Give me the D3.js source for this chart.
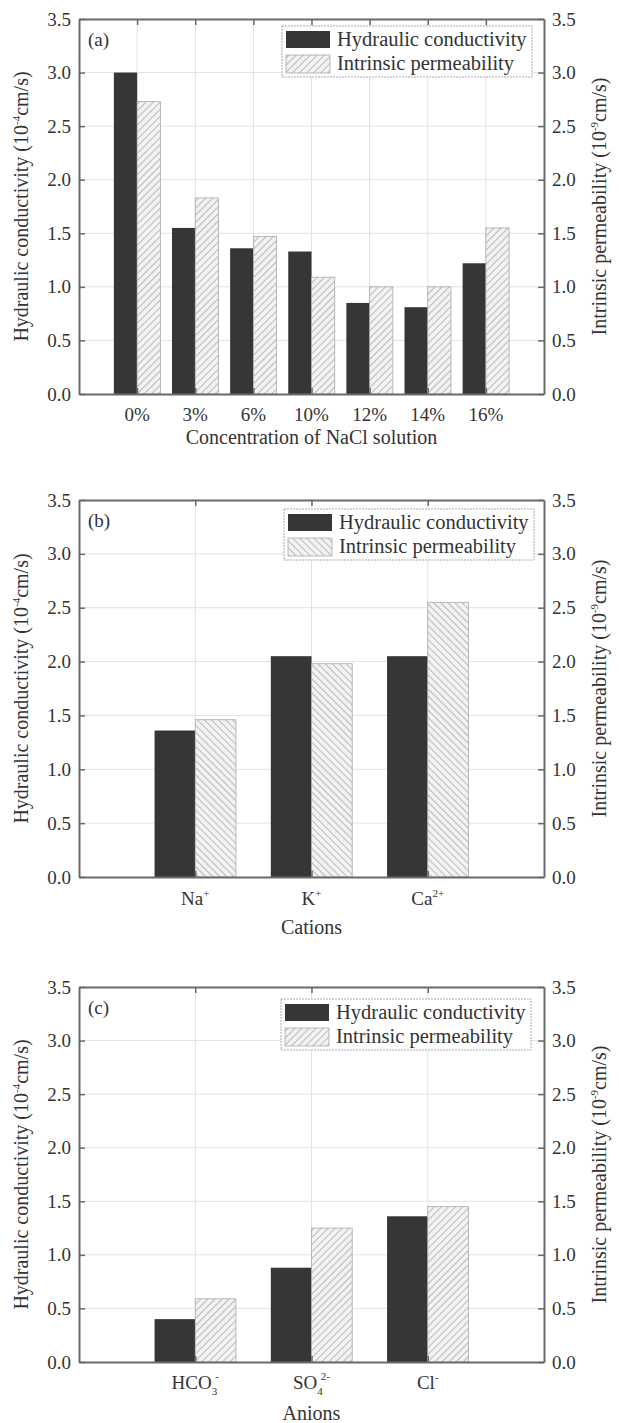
<!DOCTYPE html>
<html><head><meta charset="utf-8">
<script src="https://cdn.jsdelivr.net/npm/d3@7/dist/d3.min.js"></script>
<style>
html,body{margin:0;padding:0;background:#fff;}
text{font-family:"Liberation Serif","Times New Roman",serif;fill:#333;}
</style></head>
<body><svg id="c" width="619" height="1423"></svg>
<script>
// ---- data ----
const catsA = ["0%","3%","6%","10%","12%","14%","16%"];
const hydA  = [3.00,1.55,1.36,1.33,0.85,0.81,1.22];
const intA  = [2.73,1.83,1.47,1.09,1.00,1.00,1.55];

const catsB = [["Na","+"],["K","+"],["Ca","2+"]];
const hydB  = [1.36,2.05,2.05];
const intB  = [1.46,1.98,2.55];

const catsC = [["HCO","3","-"],["SO","4","2-"],["Cl","","-"]];
const hydC  = [0.40,0.88,1.36];
const intC  = [0.59,1.25,1.45];

const yTicks = [0,0.5,1.0,1.5,2.0,2.5,3.0,3.5];
const legendLabels = ["Hydraulic conductivity","Intrinsic permeability"];

const svg = d3.select("#c");
const defs = svg.append("defs");
function hatch(id, dir){
  const p = defs.append("pattern").attr("id",id).attr("patternUnits","userSpaceOnUse")
    .attr("width",5).attr("height",5)
    .attr("patternTransform", dir>0 ? "rotate(45)" : "rotate(-45)");
  p.append("rect").attr("width",5).attr("height",5).attr("fill","#f2f2f2");
  p.append("line").attr("x1",0).attr("y1",0).attr("x2",0).attr("y2",5)
    .attr("stroke","#9a9a9a").attr("stroke-width",1.3);
}
hatch("hR",1); hatch("hL",-1);

const L = 79, R = 544;
const panels = [
  {top:19, bot:394, cats:catsA, hyd:hydA, intr:intA, bw:0.40, pat:"hR", label:"(a)",
   xTitle:"Concentration of NaCl solution", tickY:421, titleY:444, kind:"a", leg:[282,26]},
  {top:500, bot:877, cats:catsB, hyd:hydB, intr:intB, bw:0.35, pat:"hL", label:"(b)",
   xTitle:"Cations", tickY:905, titleY:934, kind:"b", leg:[284,509]},
  {top:987, bot:1362, cats:catsC, hyd:hydC, intr:intC, bw:0.35, pat:"hR", label:"(c)",
   xTitle:"Anions", tickY:1389, titleY:1420, kind:"c", leg:[281,999]}
];

panels.forEach(P=>{
  const n = P.cats.length;
  const x = d3.scaleLinear().domain([0,n+1]).range([L,R]);
  const y = d3.scaleLinear().domain([0,3.5]).range([P.bot,P.top]);
  const g = svg.append("g");
  const idx = d3.range(1,n+1);

  // grid
  g.append("g").selectAll("line").data(yTicks.filter(v=>v>0&&v<3.5)).join("line")
    .attr("x1",L).attr("x2",R).attr("y1",d=>y(d)).attr("y2",d=>y(d))
    .attr("stroke","#e2e2e2").attr("stroke-width",1);
  g.append("g").selectAll("line").data(idx).join("line")
    .attr("x1",d=>x(d)).attr("x2",d=>x(d)).attr("y1",P.top).attr("y2",P.bot)
    .attr("stroke","#e2e2e2").attr("stroke-width",1);

  // bars
  const bw = x(P.bw)-x(0);
  g.append("g").selectAll("rect").data(P.hyd).join("rect")
    .attr("x",(d,i)=>x(i+1)-bw).attr("width",bw)
    .attr("y",d=>y(d)).attr("height",d=>y(0)-y(d))
    .attr("fill","#363636");
  g.append("g").selectAll("rect").data(P.intr).join("rect")
    .attr("x",(d,i)=>x(i+1)).attr("width",bw)
    .attr("y",d=>y(d)).attr("height",d=>y(0)-y(d))
    .attr("fill","url(#"+P.pat+")").attr("stroke","#aaa").attr("stroke-width",0.8);

  // axes
  const styleAx = sel=>{
    sel.select(".domain").attr("stroke","#6a6a6a").attr("stroke-width",2);
    sel.selectAll(".tick line").attr("stroke","#6a6a6a").attr("stroke-width",1.5);
    sel.selectAll(".tick text").attr("font-family","Liberation Serif").attr("font-size",19).attr("fill","#444");
  };
  g.append("g").attr("transform",`translate(${L},0)`)
    .call(d3.axisLeft(y).tickValues(yTicks).tickFormat(d3.format(".1f")).tickSize(-6).tickPadding(8).tickSizeOuter(0))
    .call(styleAx);
  g.append("g").attr("transform",`translate(${R},0)`)
    .call(d3.axisRight(y).tickValues(yTicks).tickFormat(d3.format(".1f")).tickSize(-6).tickPadding(8).tickSizeOuter(0))
    .call(styleAx);
  g.append("g").attr("transform",`translate(0,${P.top})`)
    .call(d3.axisTop(x).tickValues(idx).tickFormat("").tickSize(-6).tickSizeOuter(0))
    .call(styleAx);
  g.append("g").attr("transform",`translate(0,${P.bot})`)
    .call(d3.axisBottom(x).tickValues(idx).tickFormat("").tickSize(-6).tickSizeOuter(0))
    .call(styleAx);

  // x tick labels
  P.cats.forEach((c,i)=>{
    const t = g.append("text").attr("x",x(i+1)).attr("y",P.tickY)
      .attr("text-anchor","middle").attr("font-size",19).attr("fill","#444");
    if (P.kind==="a") { t.text(c); }
    else if (P.kind==="b") {
      t.append("tspan").text(c[0]);
      t.append("tspan").attr("dy",-8).attr("font-size",11).text(c[1]);
    } else {
      t.append("tspan").text(c[0]);
      if (c[1]) t.append("tspan").attr("dy",6).attr("font-size",11).text(c[1]);
      t.append("tspan").attr("dy",c[1]?-15:-8).attr("dx",c[1]?-2:0).attr("font-size",11).text(c[2]);
    }
  });
  g.append("text").attr("x",(L+R)/2).attr("y",P.titleY).attr("text-anchor","middle")
    .attr("font-size",20).attr("fill","#333").text(P.xTitle);

  // panel label
  g.append("text").attr("x",L+9).attr("y",P.top+27).attr("font-size",19).attr("fill","#444").text(P.label);

  // y titles
  const cy = (P.top+P.bot)/2;
  const lt = g.append("text").attr("transform",`translate(28,${cy}) rotate(-90)`)
    .attr("text-anchor","middle").attr("font-size",20).attr("fill","#333");
  lt.append("tspan").text("Hydraulic conductivity (10");
  lt.append("tspan").attr("dy",-8).attr("font-size",11).text("-4");
  lt.append("tspan").attr("dy",8).text("cm/s)");
  const rt = g.append("text").attr("transform",`translate(606,${cy}) rotate(-90)`)
    .attr("text-anchor","middle").attr("font-size",20).attr("fill","#333");
  rt.append("tspan").text("Intrinsic permeability (10");
  rt.append("tspan").attr("dy",-8).attr("font-size",11).text("-9");
  rt.append("tspan").attr("dy",8).text("cm/s)");

  // legend
  const [lx,ly] = P.leg;
  const lg = g.append("g").attr("transform",`translate(${lx},${ly})`);
  lg.append("rect").attr("width",250).attr("height",51).attr("fill","#fff")
    .attr("stroke","#aaa").attr("stroke-width",1).attr("stroke-dasharray","2,1");
  lg.append("rect").attr("x",4).attr("y",5).attr("width",44).attr("height",17).attr("fill","#363636");
  lg.append("rect").attr("x",4).attr("y",29).attr("width",44).attr("height",18)
    .attr("fill","url(#"+P.pat+")").attr("stroke","#aaa").attr("stroke-width",0.8);
  lg.selectAll("text.lg").data(legendLabels).join("text").attr("class","lg")
    .attr("x",55).attr("y",(d,i)=>20+i*24).attr("font-size",20.5).attr("fill","#333").text(d=>d);
});
</script></body></html>
